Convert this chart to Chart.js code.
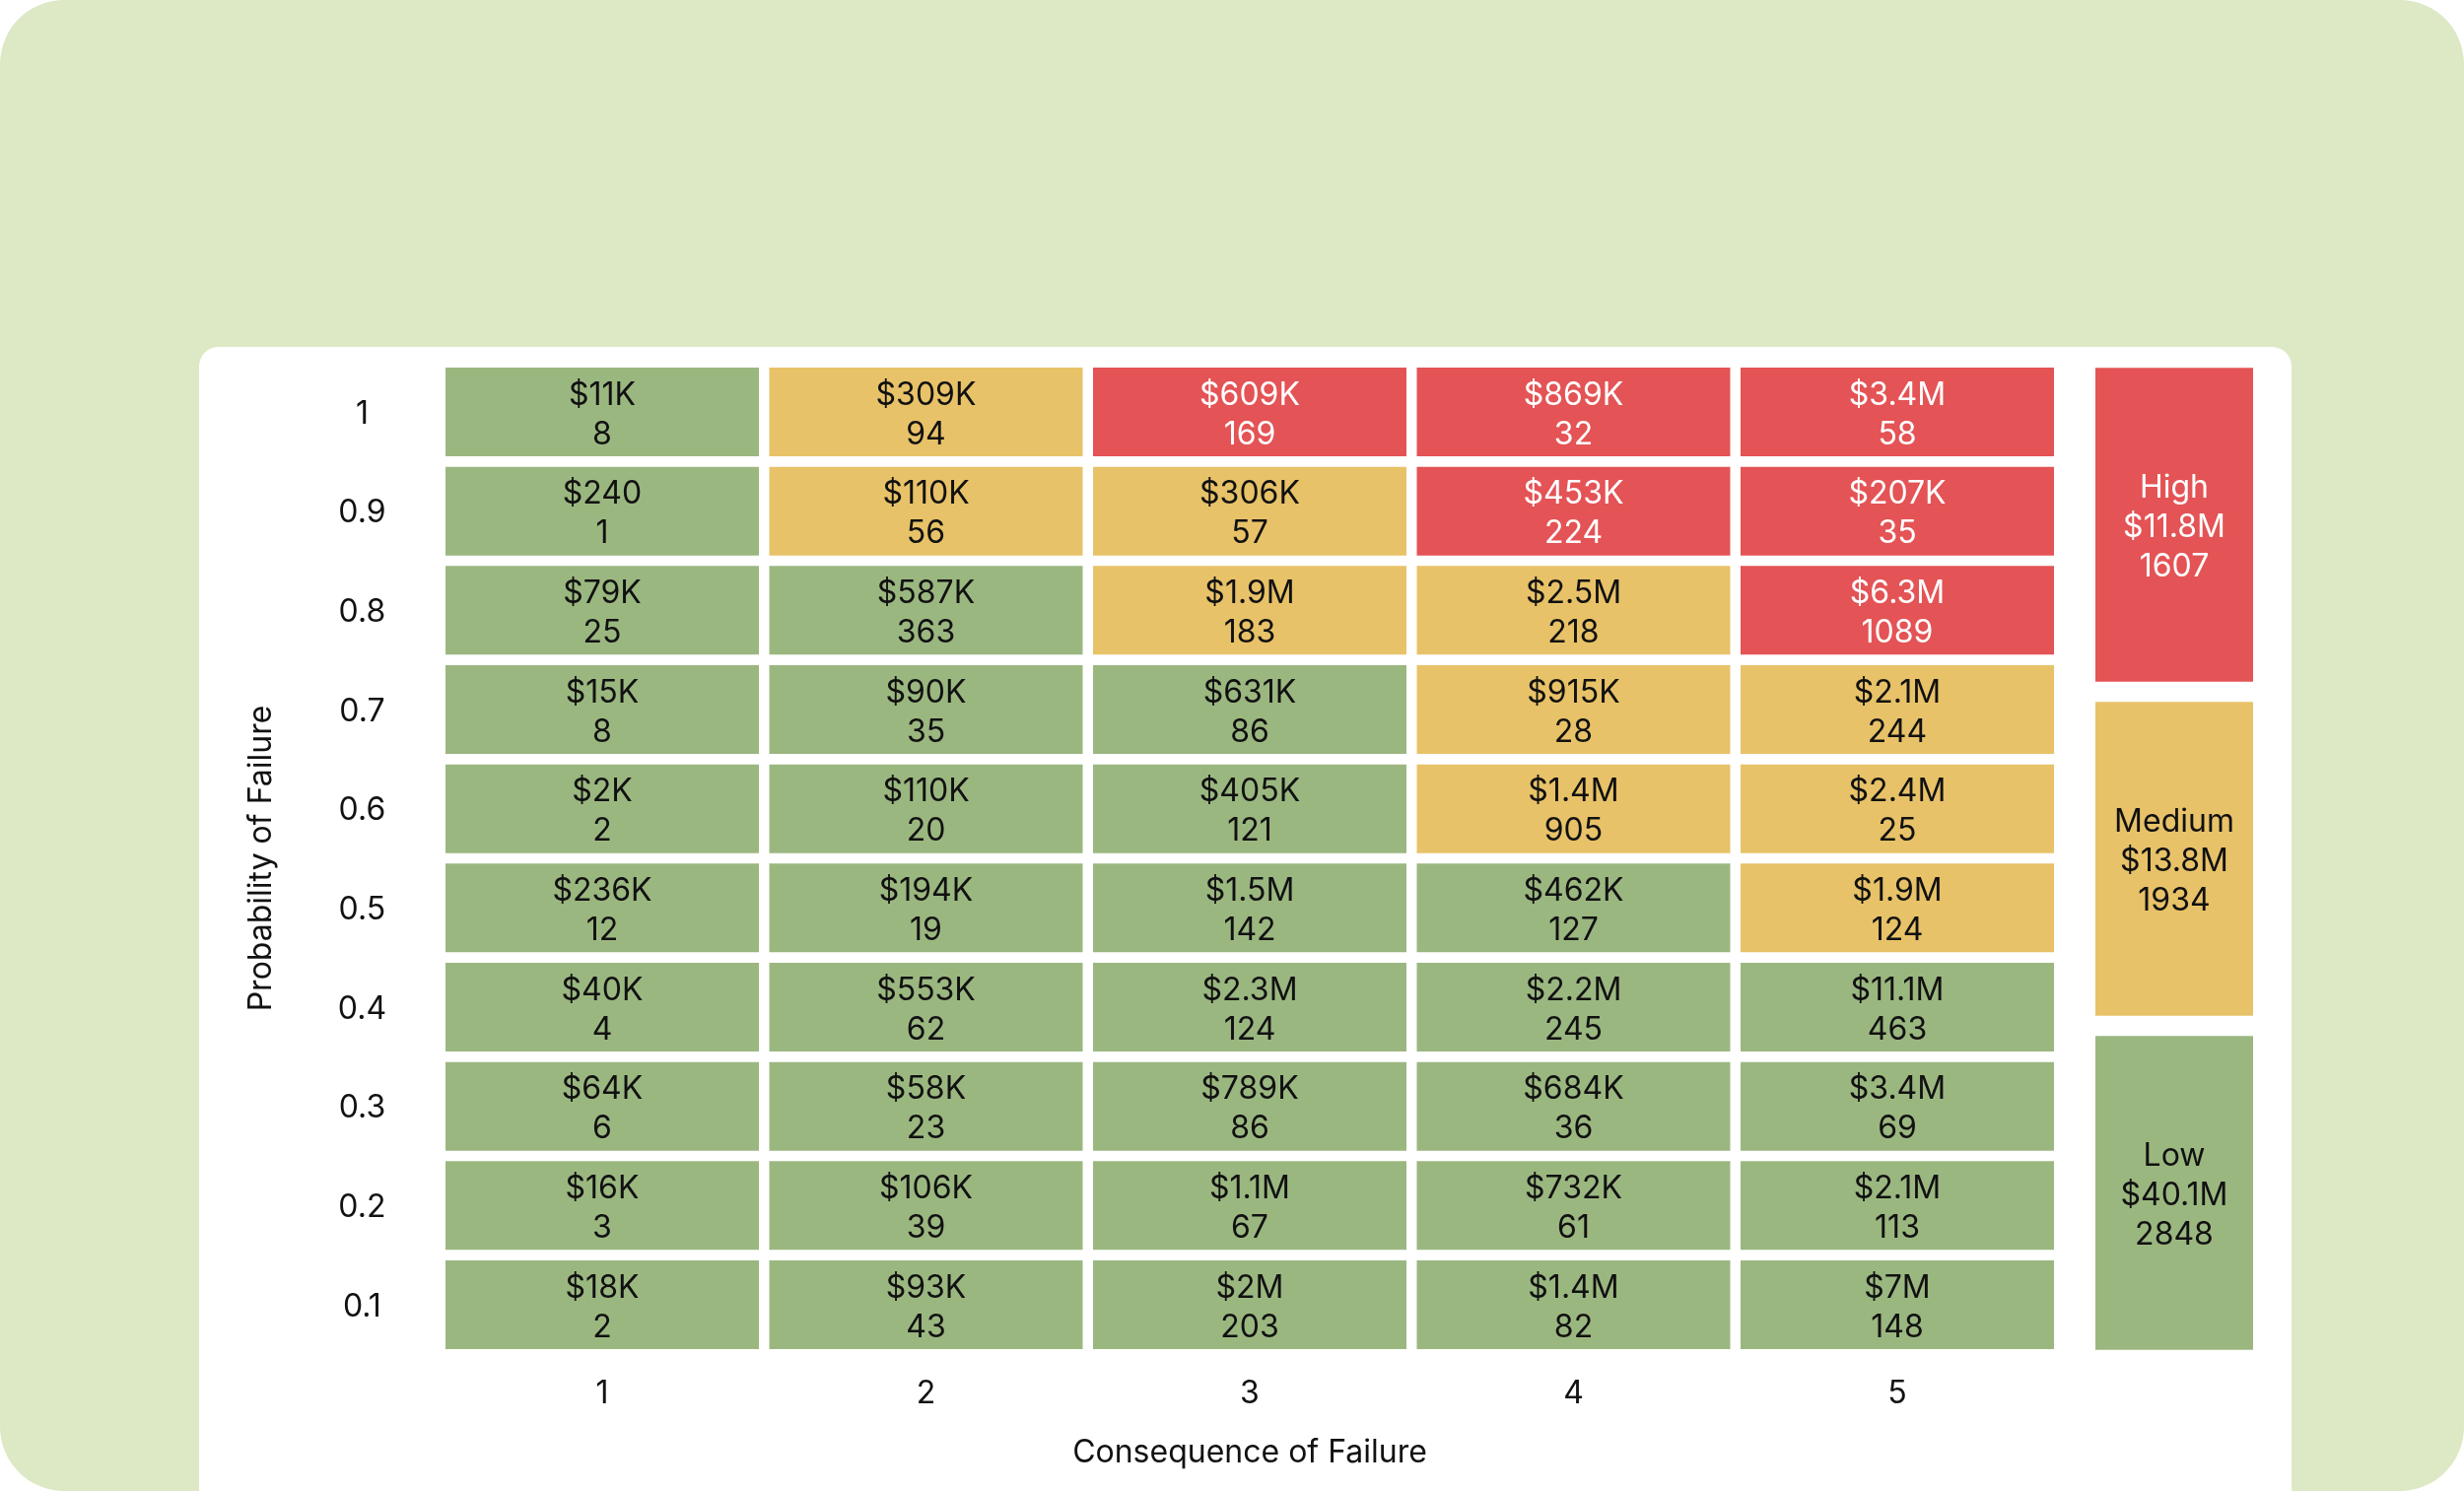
<!DOCTYPE html>
<html lang="en">
<head>
<script src="https://cdn.jsdelivr.net/npm/chart.js@4.4.1/dist/chart.umd.min.js"></script>
<style>
    body { margin: 0; background: #fff; width: 2500px; height: 1513px; overflow: hidden; position: relative; }
    #bg { position: absolute; left: 0; top: 0; width: 2500px; height: 1513px; background: #dde9c5; border-radius: 65px; }
    #panel { position: absolute; left: 202px; top: 352px; width: 2123px; height: 1250px; background: #fff; border-radius: 20px; }
    #grid-box { position: absolute; left: 203px; top: 352px; width: 1900px; height: 1161px; }
    #side-box { position: absolute; left: 2126px; top: 362.5px; width: 160px; height: 1017px; }
</style>
</head>
<body>
<div id="bg"></div>
<div id="panel"></div>
<div id="grid-box"><canvas id="grid"></canvas></div>
<div id="side-box"><canvas id="side"></canvas></div>

<script>
    // rows follow probability (top to bottom), columns follow consequence
    const consequence = ["1", "2", "3", "4", "5"];
    const probability = [1, 0.9, 0.8, 0.7, 0.6, 0.5, 0.4, 0.3, 0.2, 0.1];
    const cost = [
        [11000, 309000, 609000, 869000, 3400000],
        [240, 110000, 306000, 453000, 207000],
        [79000, 587000, 1900000, 2500000, 6300000],
        [15000, 90000, 631000, 915000, 2100000],
        [2000, 110000, 405000, 1400000, 2400000],
        [236000, 194000, 1500000, 462000, 1900000],
        [40000, 553000, 2300000, 2200000, 11100000],
        [64000, 58000, 789000, 684000, 3400000],
        [16000, 106000, 1100000, 732000, 2100000],
        [18000, 93000, 2000000, 1400000, 7000000]
    ];
    const count = [
        [8, 94, 169, 32, 58],
        [1, 56, 57, 224, 35],
        [25, 363, 183, 218, 1089],
        [8, 35, 86, 28, 244],
        [2, 20, 121, 905, 25],
        [12, 19, 142, 127, 124],
        [4, 62, 124, 245, 463],
        [6, 23, 86, 36, 69],
        [3, 39, 67, 61, 113],
        [2, 43, 203, 82, 148]
    ];
    const risk = [
        ["Low", "Medium", "High", "High", "High"],
        ["Low", "Medium", "Medium", "High", "High"],
        ["Low", "Low", "Medium", "Medium", "High"],
        ["Low", "Low", "Low", "Medium", "Medium"],
        ["Low", "Low", "Low", "Medium", "Medium"],
        ["Low", "Low", "Low", "Low", "Medium"],
        ["Low", "Low", "Low", "Low", "Low"],
        ["Low", "Low", "Low", "Low", "Low"],
        ["Low", "Low", "Low", "Low", "Low"],
        ["Low", "Low", "Low", "Low", "Low"]
    ];
    const levels = ["High", "Medium", "Low"];
    const levelCost = [11800000, 13800000, 40100000];
    const levelCount = [1607, 1934, 2848];

    const colors = { High: "#e45355", Medium: "#e8c268", Low: "#9bb780" };
    const textColors = { High: "#ffffff", Medium: "#111111", Low: "#111111" };

    Chart.defaults.font.family = "Inter";
    Chart.defaults.font.size = 32;
    Chart.defaults.color = "#111111";
    Chart.defaults.animation = false;

    function money(v) {
        if (v >= 1e6) return "$" + Math.round(v / 1e5) / 10 + "M";
        if (v >= 1e3) return "$" + Math.round(v / 1e3) + "K";
        return "$" + v;
    }

    // writes the text lines of each bar in its middle (cap-height centred)
    const cellText = {
        id: "cellText",
        afterDatasetsDraw(chart) {
            const ctx = chart.ctx;
            const lh = 40;
            const capHalf = 11.6;
            ctx.save();
            ctx.font = "32px Inter";
            ctx.textAlign = "center";
            ctx.textBaseline = "alphabetic";
            chart.data.datasets.forEach((ds, i) => {
                chart.getDatasetMeta(i).data.forEach((bar, j) => {
                    const p = bar.getProps(["x", "y", "base"], true);
                    const lines = ds.lines[j];
                    const mid = (p.y + p.base) / 2 + 1;
                    ctx.fillStyle = ds.textColor[j];
                    lines.forEach((t, k) => {
                        ctx.fillText(t, p.x, mid + (k - (lines.length - 1) / 2) * lh + capHalf);
                    });
                });
            });
            ctx.restore();
        }
    };

    const half = 0.0447; // half a cell height, in probability units
    const gridSets = probability.map((p, r) => ({
        label: String(p),
        data: consequence.map(() => [p - half, p + half]),
        backgroundColor: risk[r].map(l => colors[l]),
        textColor: risk[r].map(l => textColors[l]),
        lines: cost[r].map((c, k) => [money(c), String(count[r][k])]),
        grouped: false,
        barPercentage: 0.968,
        categoryPercentage: 1
    }));

    new Chart(document.getElementById("grid"), {
        type: "bar",
        data: { labels: consequence, datasets: gridSets },
        options: {
            responsive: true,
            maintainAspectRatio: false,
            layout: { padding: { left: 38.8, top: 15.7, right: 13.75, bottom: 15.3 } },
            plugins: { legend: { display: false }, tooltip: { enabled: false } },
            scales: {
                x: {
                    grid: { display: false, drawTicks: false },
                    border: { display: false },
                    ticks: { padding: 21 },
                    title: { display: true, text: "Consequence of Failure" },
                    afterFit: s => { s.height = 123.4; s.paddingLeft = 0; s.paddingRight = 0; }
                },
                y: {
                    min: 0.05,
                    max: 1.05,
                    grid: { display: false, drawTicks: false },
                    border: { display: false },
                    ticks: { crossAlign: "center", padding: 54.7, labelOffset: 2, callback: v => String(v) },
                    afterBuildTicks: s => { s.ticks = probability.map(v => ({ value: v })); },
                    title: { display: true, text: "Probability of Failure" },
                    afterFit: s => { s.width = 204.95; s.paddingTop = 0; s.paddingBottom = 0; }
                }
            }
        },
        plugins: [cellText]
    });

    const gap = 0.031; // half the space between summary boxes
    const sideSets = levels.map((l, i) => ({
        label: l,
        data: [[levels.length - i - 1 + gap, levels.length - i - gap]],
        backgroundColor: [colors[l]],
        textColor: [textColors[l]],
        lines: [[l, money(levelCost[i]), String(levelCount[i])]],
        grouped: false,
        barPercentage: 1,
        categoryPercentage: 1
    }));

    new Chart(document.getElementById("side"), {
        type: "bar",
        data: { labels: ["Total"], datasets: sideSets },
        options: {
            responsive: true,
            maintainAspectRatio: false,
            layout: { padding: 0 },
            plugins: { legend: { display: false }, tooltip: { enabled: false } },
            scales: {
                x: { display: false },
                y: { display: false, min: 0, max: levels.length }
            }
        },
        plugins: [cellText]
    });
</script>
</body>
</html>
